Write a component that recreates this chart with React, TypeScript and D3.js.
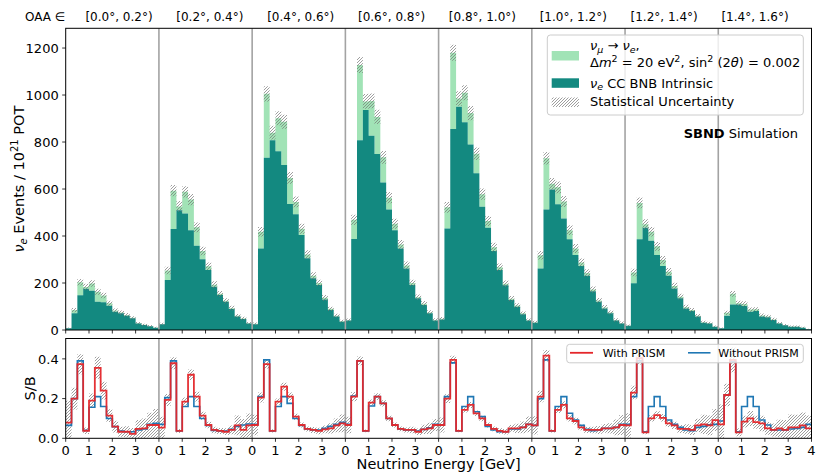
import * as d3 from 'd3';

// ---------- data ----------
const oaaBins = ['[0.0°, 0.2°)', '[0.2°, 0.4°)', '[0.4°, 0.6°)', '[0.6°, 0.8°)',
  '[0.8°, 1.0°)', '[1.0°, 1.2°)', '[1.2°, 1.4°)', '[1.4°, 1.6°)'];
const panelTickLabels = ['0', '1', '2', '3'];
const lastTickLabel = '4';
const topTicks = [0, 200, 400, 600, 800, 1000, 1200];
const bottomTicks = [0, 0.2, 0.4];
const binWidth = 0.25; // GeV, 16 bins per OAA panel
const panelSpan = 4;   // GeV

// nu_e CC BNB intrinsic, events / 1e21 POT (one line per OAA bin)
const nueIntrinsic = [
  7, 71, 148, 176, 167, 120, 118, 103, 78, 71, 61, 50, 28, 21, 16, 10,
  24, 213, 430, 510, 496, 425, 359, 301, 255, 184, 149, 120, 89, 57, 47, 28,
  25, 347, 733, 808, 761, 702, 536, 493, 404, 305, 220, 191, 130, 85, 57, 35,
  40, 387, 808, 936, 827, 749, 628, 513, 425, 347, 262, 191, 135, 106, 71, 40,
  45, 432, 855, 950, 884, 790, 667, 525, 435, 336, 255, 190, 128, 99, 67, 40,
  31, 262, 513, 598, 535, 475, 386, 319, 272, 231, 165, 120, 92, 71, 40, 28,
  18, 199, 386, 435, 380, 319, 272, 231, 177, 135, 92, 81, 57, 31, 28, 14,
  7, 61, 109, 109, 102, 78, 81, 57, 54, 43, 28, 20, 14, 14, 10, 3,
];

// numu -> nue oscillated signal stacked on top
const oscSignal = [
  0.6, 14, 55, 7, 31, 43, 29, 11, 5, 3, 3, 2, 1.5, 1, 1, 0.7,
  1.5, 40, 163, 16, 92, 130, 78, 35, 16, 9, 5, 4, 4, 3.5, 2, 1.5,
  1.7, 71, 272, 32, 140, 184, 111, 52, 27, 16, 11, 9, 7, 5, 4, 3,
  2.7, 82, 320, 37, 148, 158, 107, 50, 27, 17, 12, 9, 4.5, 6, 4, 2.7,
  3, 90, 325, 35, 126, 133, 83, 53, 29, 16, 12, 7, 5, 5, 4, 2.5,
  2, 56, 218, 24, 72, 72, 39, 28, 15, 12, 7, 5.5, 4, 3.5, 2.5, 2,
  1.2, 46, 155, 15, 38, 37, 26, 17, 10, 7, 5, 4, 3.5, 2.2, 2, 1.3,
  0.5, 12, 45, 5, 9, 9, 7, 5, 3, 2, 1.5, 1, 1, 0.8, 0.7, 0.2,
];

// statistical uncertainty on the stacked total
const statUnc = [
  3, 9, 14, 14, 14, 13, 12, 11, 9, 9, 8, 7, 5, 5, 4, 3,
  5, 16, 24, 23, 24, 24, 21, 18, 16, 14, 12, 11, 10, 8, 7, 5,
  5, 20, 32, 29, 30, 30, 25, 23, 21, 18, 15, 14, 12, 9, 8, 6,
  6, 22, 34, 31, 31, 30, 27, 24, 21, 19, 17, 14, 12, 11, 9, 7,
  7, 23, 34, 31, 32, 30, 27, 24, 21, 19, 16, 14, 12, 10, 8, 6,
  6, 18, 27, 25, 25, 23, 21, 19, 17, 16, 13, 11, 10, 9, 7, 6,
  4, 16, 23, 21, 20, 19, 17, 16, 14, 12, 10, 9, 8, 6, 5, 4,
  3, 9, 12, 11, 11, 9, 9, 8, 8, 7, 5, 5, 4, 4, 3, 2,
];

// S/B
const sbWithPrism = [
  .079, .20, .373, .038, .19, .355, .24, .114, .059, .033, .033, .022, .047, .05, .067, .067,
  .054, .193, .378, .037, .185, .32, .21, .114, .067, .042, .037, .033, .042, .065, .042, .065,
  .067, .205, .373, .037, .185, .26, .21, .109, .067, .047, .042, .037, .045, .05, .065, .075,
  .067, .21, .39, .037, .18, .21, .176, .10, .067, .047, .042, .042, .033, .045, .05, .067,
  .067, .20, .395, .037, .143, .168, .126, .10, .067, .047, .037, .033, .05, .05, .055, .07,
  .065, .21, .416, .037, .143, .168, .10, .087, .055, .042, .042, .042, .05, .05, .055, .067,
  .065, .23, .403, .03, .10, .117, .103, .075, .065, .047, .047, .042, .065, .07, .065, .092,
  .07, .218, .395, .03, .084, .10, .081, .075, .05, .042, .05, .042, .055, .055, .065, .05,
];

const sbWithoutPrism = [
  .065, .20, .39, .04, .156, .21, .16, .10, .059, .036, .033, .033, .042, .047, .07, .075,
  .07, .205, .39, .037, .16, .21, .16, .10, .065, .04, .037, .036, .045, .06, .067, .072,
  .07, .21, .395, .037, .16, .21, .176, .10, .065, .047, .042, .042, .05, .06, .07, .08,
  .07, .213, .39, .037, .163, .21, .176, .10, .067, .047, .042, .042, .037, .045, .053, .07,
  .067, .21, .38, .037, .16, .21, .134, .109, .06, .042, .033, .033, .047, .047, .055, .07,
  .065, .20, .395, .037, .16, .21, .126, .092, .065, .045, .038, .042, .05, .05, .055, .07,
  .07, .21, .39, .033, .16, .21, .16, .092, .07, .055, .042, .038, .055, .06, .068, .07,
  .087, .218, .387, .033, .16, .21, .16, .092, .067, .042, .042, .042, .047, .05, .055, .07,
];

const sbUnc = [
  .11, .055, .05, .016, .035, .055, .045, .032, .03, .025, .028, .03, .045, .05, .062, .08,
  .055, .03, .03, .01, .02, .027, .025, .02, .016, .016, .015, .017, .022, .05, .055, .06,
  .052, .025, .022, .008, .016, .02, .02, .015, .013, .013, .015, .016, .02, .026, .035, .045,
  .041, .023, .022, .007, .015, .017, .016, .014, .012, .012, .013, .016, .016, .023, .028, .03,
  .038, .022, .021, .007, .013, .015, .014, .014, .012, .012, .014, .014, .017, .023, .03, .04,
  .046, .029, .029, .008, .016, .018, .016, .017, .014, .015, .016, .02, .022, .026, .04, .05,
  .061, .034, .032, .009, .016, .019, .019, .018, .018, .02, .024, .025, .033, .048, .05, .055,
  .1, .057, .062, .02, .03, .038, .033, .039, .032, .033, .044, .05, .065, .064, .065, .065,
];

// ---------- layout ----------
const W = 820;
const H = 474;
const axL = 65.7;
const axR = 811.5;
const topY0 = 28.3;
const topY1 = 330;
const botY0 = 338.5;
const botY1 = 438.3;
const FONT = "'DejaVu Sans', sans-serif";
const TEAL = '#138980';
const LIGHT = '#a1e3b6';
const RED = '#e4262a';
const BLUE = '#1f77b4';

type Pt = { e: number; lo: number; hi: number };

const toSteps = (lo: number[], hi: number[]): Pt[] => {
  const pts = lo.map((l, i) => ({ e: i * binWidth, lo: l, hi: hi[i] }));
  const n = lo.length;
  pts.push({ e: n * binWidth, lo: lo[n - 1], hi: hi[n - 1] });
  return pts;
};

const App = () => {
  const nPanels = oaaBins.length;
  const span = nPanels * panelSpan;

  const x = d3.scaleLinear().domain([0, span]).range([axL, axR]);
  const yTop = d3.scaleLinear().domain([0, 1284]).range([topY1, topY0]);
  const yBot = d3.scaleLinear().domain([0, 0.5]).range([botY1, 339]);
  const labelX = d3.scaleLinear().domain([0, nPanels - 1]).range([119, 755]);

  const totals = nueIntrinsic.map((v, i) => v + oscSignal[i]);
  const zeros = nueIntrinsic.map(() => 0);

  const areaTop = d3.area<Pt>()
    .x((d) => x(d.e))
    .y0((d) => yTop(d.lo))
    .y1((d) => yTop(d.hi))
    .curve(d3.curveStepAfter);

  const areaBot = d3.area<Pt>()
    .x((d) => x(d.e))
    .y0((d) => yBot(Math.max(0, d.lo)))
    .y1((d) => yBot(d.hi))
    .curve(d3.curveStepAfter);

  const lineBot = d3.line<Pt>()
    .x((d) => x(d.e))
    .y((d) => yBot(d.hi))
    .curve(d3.curveStepAfter);

  const intrinsicPath = areaTop(toSteps(zeros, nueIntrinsic)) || '';
  const signalPath = areaTop(toSteps(nueIntrinsic, totals)) || '';
  const uncPath = areaTop(toSteps(
    totals.map((v, i) => v - statUnc[i]),
    totals.map((v, i) => v + statUnc[i]),
  )) || '';

  const sbUncPath = areaBot(toSteps(
    sbWithPrism.map((v, i) => v - sbUnc[i]),
    sbWithPrism.map((v, i) => v + sbUnc[i]),
  )) || '';
  const redPath = lineBot(toSteps(sbWithPrism, sbWithPrism)) || '';
  const bluePath = lineBot(toSteps(sbWithoutPrism, sbWithoutPrism)) || '';

  const gevTicks = d3.range(0, span + 1);
  const separators = d3.range(1, nPanels).map((k) => k * panelSpan);

  const tickLabel = (k: number) =>
    k === span ? lastTickLabel : panelTickLabels[k % panelSpan];

  return (
    <svg
      width={W}
      height={H}
      viewBox={`0 0 ${W} ${H}`}
      style={{ position: 'absolute', left: 0, top: 0, display: 'block', background: '#fff' }}
      fontFamily={FONT}
    >
      <defs>
        <pattern id="hatch" patternUnits="userSpaceOnUse" width="3" height="3">
          <path d="M-1,1 l2,-2 M0,3 l3,-3 M2,4 l2,-2" stroke="#747474" strokeWidth="0.7" />
        </pattern>
        <clipPath id="clipTop">
          <rect x={axL} y={topY0} width={axR - axL} height={topY1 - topY0} />
        </clipPath>
        <clipPath id="clipBot">
          <rect x={axL} y={botY0} width={axR - axL} height={botY1 - botY0} />
        </clipPath>
      </defs>

      {/* OAA header */}
      <text x={25} y={20.5} fontSize={12} fill="#000">OAA ∈</text>
      {oaaBins.map((lab, i) => (
        <text key={lab} x={labelX(i)} y={20.5} fontSize={12} textAnchor="middle" fill="#000">
          {lab}
        </text>
      ))}

      {/* ===== top panel ===== */}
      <g clipPath="url(#clipTop)">
        <path d={signalPath} fill={LIGHT} />
        <path d={intrinsicPath} fill={TEAL} />
        <path d={uncPath} fill="url(#hatch)" />
        {separators.map((s) => (
          <line key={s} x1={x(s)} x2={x(s)} y1={topY0} y2={topY1} stroke="#a3a3a3" strokeWidth={1.6} />
        ))}
      </g>
      <rect x={axL} y={topY0} width={axR - axL} height={topY1 - topY0} fill="none" stroke="#000" strokeWidth={1} />
      {gevTicks.map((k) => (
        <line key={`tt${k}`} x1={x(k)} x2={x(k)} y1={topY1} y2={topY1 + 3.5} stroke="#000" strokeWidth={0.8} />
      ))}
      {topTicks.map((t) => (
        <g key={`yt${t}`}>
          <line x1={axL - 3.5} x2={axL} y1={yTop(t)} y2={yTop(t)} stroke="#000" strokeWidth={0.8} />
          <text x={axL - 7} y={yTop(t) + 4.7} fontSize={13} textAnchor="end" fill="#000">{t}</text>
        </g>
      ))}
      <text transform={`translate(24,${(topY0 + topY1) / 2}) rotate(-90)`} fontSize={14.5} textAnchor="middle" fill="#000">
        <tspan fontStyle="italic">ν</tspan>
        <tspan fontStyle="italic" fontSize={10} dy={3}>e</tspan>
        <tspan dy={-3}> Events / 10</tspan>
        <tspan fontSize={10} dy={-6}>21</tspan>
        <tspan dy={6}> POT</tspan>
      </text>

      {/* top legend */}
      <rect x={547.3} y={35} width={256} height={80} rx={3} fill="#fff" fillOpacity={0.8} stroke="#cccccc" strokeWidth={1} />
      <rect x={551.7} y={51} width={27.3} height={9.5} fill={LIGHT} />
      <rect x={551.7} y={78.3} width={27.3} height={9.5} fill={TEAL} />
      <rect x={551.7} y={97.5} width={27.3} height={9.5} fill="url(#hatch)" />
      <text x={590} y={50} fontSize={13} fill="#000">
        <tspan fontStyle="italic">ν</tspan>
        <tspan fontStyle="italic" fontSize={9.5} dy={2.5}>μ</tspan>
        <tspan dy={-2.5}> → </tspan>
        <tspan fontStyle="italic">ν</tspan>
        <tspan fontStyle="italic" fontSize={9.5} dy={2.5}>e</tspan>
        <tspan dy={-2.5}>,</tspan>
      </text>
      <text x={590} y={67} fontSize={13} fill="#000">
        <tspan>Δ</tspan>
        <tspan fontStyle="italic">m</tspan>
        <tspan fontSize={9.5} dy={-5}>2</tspan>
        <tspan dy={5}> = 20 eV</tspan>
        <tspan fontSize={9.5} dy={-5}>2</tspan>
        <tspan dy={5}>, sin</tspan>
        <tspan fontSize={9.5} dy={-5}>2</tspan>
        <tspan dy={5}> (2</tspan>
        <tspan fontStyle="italic">θ</tspan>
        <tspan>) = 0.002</tspan>
      </text>
      <text x={590} y={87.5} fontSize={13} fill="#000">
        <tspan fontStyle="italic">ν</tspan>
        <tspan fontStyle="italic" fontSize={9.5} dy={2.5}>e</tspan>
        <tspan dy={-2.5}> CC BNB Intrinsic</tspan>
      </text>
      <text x={590} y={105.5} fontSize={13} fill="#000">Statistical Uncertainty</text>
      <text x={798} y={138} fontSize={13} textAnchor="end" fill="#000">
        <tspan fontWeight="bold">SBND</tspan>
        <tspan> Simulation</tspan>
      </text>

      {/* ===== bottom panel ===== */}
      <g clipPath="url(#clipBot)">
        <path d={sbUncPath} fill="url(#hatch)" />
        {separators.map((s) => (
          <line key={`b${s}`} x1={x(s)} x2={x(s)} y1={botY0} y2={botY1} stroke="#a3a3a3" strokeWidth={1.6} />
        ))}
        <path d={bluePath} fill="none" stroke={BLUE} strokeWidth={1.6} />
        <path d={redPath} fill="none" stroke={RED} strokeWidth={1.8} strokeOpacity={0.95} />
      </g>
      <rect x={axL} y={botY0} width={axR - axL} height={botY1 - botY0} fill="none" stroke="#000" strokeWidth={1} />
      {gevTicks.map((k) => (
        <g key={`bt${k}`}>
          <line x1={x(k)} x2={x(k)} y1={botY1} y2={botY1 + 3.5} stroke="#000" strokeWidth={0.8} />
          <text x={x(k)} y={454.5} fontSize={13} textAnchor="middle" fill="#000">{tickLabel(k)}</text>
        </g>
      ))}
      {bottomTicks.map((t) => (
        <g key={`yb${t}`}>
          <line x1={axL - 3.5} x2={axL} y1={yBot(t)} y2={yBot(t)} stroke="#000" strokeWidth={0.8} />
          <text x={axL - 7} y={yBot(t) + 4.7} fontSize={13} textAnchor="end" fill="#000">{t.toFixed(1)}</text>
        </g>
      ))}
      <text transform={`translate(34.5,${(botY0 + botY1) / 2}) rotate(-90)`} fontSize={14.5} textAnchor="middle" fill="#000">
        S/B
      </text>
      <text x={(axL + axR) / 2} y={469} fontSize={14.5} textAnchor="middle" fill="#000">
        Neutrino Energy [GeV]
      </text>

      {/* bottom legend */}
      <rect x={566.7} y={344.3} width={236.6} height={18.5} rx={3} fill="#fff" fillOpacity={0.8} stroke="#cccccc" strokeWidth={1} />
      <line x1={570} x2={593} y1={352.8} y2={352.8} stroke={RED} strokeWidth={1.8} />
      <text x={602.7} y={356.8} fontSize={11} fill="#000">With PRISM</text>
      <line x1={688} x2={710.5} y1={352.8} y2={352.8} stroke={BLUE} strokeWidth={1.6} />
      <text x={718.3} y={356.8} fontSize={11} fill="#000">Without PRISM</text>
    </svg>
  );
};

export default App;
